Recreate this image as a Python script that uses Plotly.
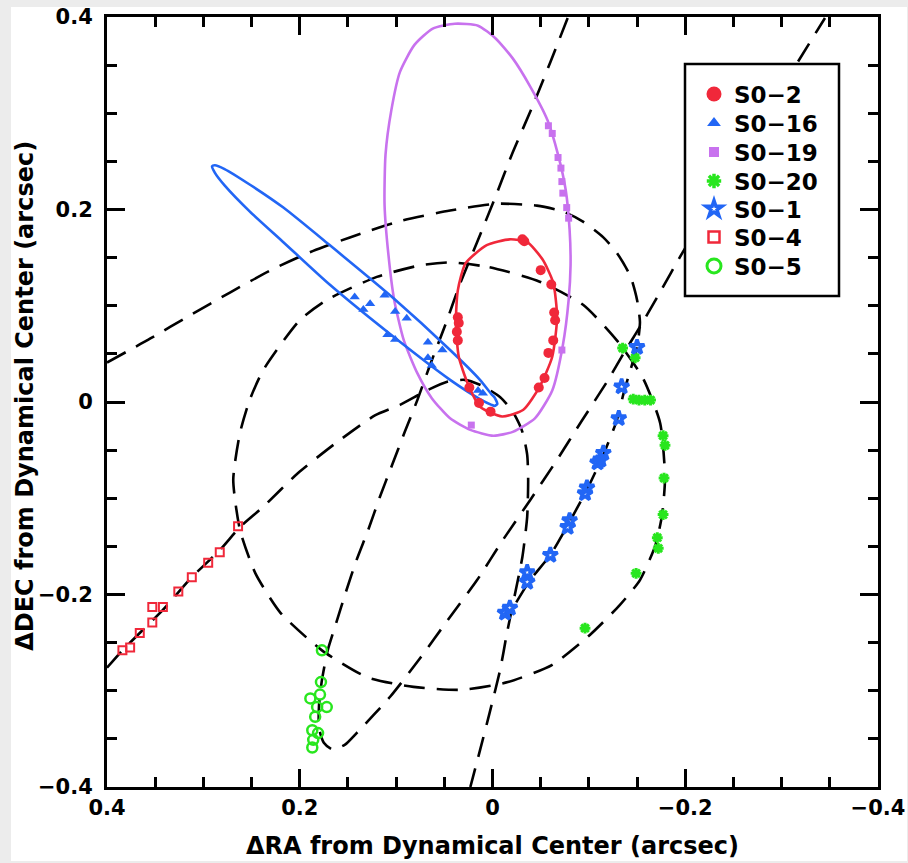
import plotly.graph_objects as go

# ---------------- data (arcsec) ----------------
# S0-2 orbit + astrometry
s02_orbit_x = [0.028, 0.036, 0.038, 0.035, 0.026, 0.013, -0.010, -0.032, -0.049, -0.062, -0.067, -0.063, -0.052, -0.036, -0.018, 0.006, 0.028]
s02_orbit_y = [0.144, 0.116, 0.082, 0.047, 0.020, -0.005, -0.015, -0.008, 0.016, 0.047, 0.088, 0.124, 0.148, 0.166, 0.169, 0.163, 0.144]
s02_x = [-0.033, -0.031, -0.050, -0.061, -0.064, -0.065, -0.063, -0.058, -0.054, -0.048, 0.002, 0.014, 0.024, 0.036, 0.037, 0.035, 0.036]
s02_y = [0.167, 0.169, 0.137, 0.122, 0.093, 0.085, 0.064, 0.051, 0.025, 0.015, -0.010, -0.001, 0.015, 0.088, 0.073, 0.082, 0.064]

# S0-16
s016_orbit_x = [0.291, 0.288, 0.278, 0.252, 0.217, 0.169, 0.103, 0.044, 0.013, 0.001, -0.002, -0.005, -0.002, 0.001, 0.013, 0.044, 0.103, 0.169, 0.217, 0.252, 0.278, 0.288, 0.291]
s016_orbit_y = [0.245, 0.246, 0.242, 0.226, 0.202, 0.163, 0.108, 0.054, 0.023, 0.008, 0.005, -0.002, -0.004, -0.003, 0.003, 0.023, 0.068, 0.122, 0.166, 0.198, 0.225, 0.238, 0.245]
s016_x = [0.143, 0.127, 0.134, 0.112, 0.101, 0.089, 0.109, 0.101, 0.067, 0.052, 0.067, 0.063, 0.015, 0.010]
s016_y = [0.109, 0.102, 0.096, 0.111, 0.094, 0.087, 0.070, 0.065, 0.062, 0.054, 0.046, 0.038, 0.012, 0.009]

# S0-19
s019_orbit_x = [0.039, 0.015, -0.003, -0.021, -0.039, -0.057, -0.068, -0.076, -0.080, -0.081, -0.079, -0.073, -0.062, -0.044, -0.021, -0.001, 0.023, 0.044, 0.063, 0.078, 0.092, 0.102, 0.108, 0.112, 0.111, 0.105, 0.096, 0.081, 0.062, 0.039]
s019_orbit_y = [0.393, 0.391, 0.378, 0.357, 0.328, 0.293, 0.257, 0.220, 0.179, 0.142, 0.106, 0.059, 0.012, -0.017, -0.031, -0.035, -0.029, -0.017, 0.004, 0.030, 0.064, 0.106, 0.153, 0.205, 0.257, 0.303, 0.343, 0.371, 0.388, 0.393]
s019_x = [-0.058, -0.062, -0.068, -0.071, -0.072, -0.073, -0.077, -0.079, -0.072, 0.022]
s019_y = [0.287, 0.279, 0.254, 0.243, 0.229, 0.217, 0.202, 0.191, 0.054, -0.024]

# S0-20
s020_orbit_x = [0.044, 0.003, -0.049, -0.094, -0.129, -0.156, -0.174, -0.179, -0.176, -0.169, -0.153, -0.132, -0.101, -0.062, -0.016, 0.032, 0.082, 0.130, 0.177, 0.220, 0.246, 0.262, 0.269, 0.262, 0.252, 0.238, 0.200, 0.172, 0.120, 0.075, 0.044]
s020_orbit_y = [0.145, 0.140, 0.125, 0.101, 0.064, 0.025, -0.022, -0.079, -0.117, -0.149, -0.185, -0.211, -0.242, -0.273, -0.291, -0.299, -0.296, -0.286, -0.258, -0.219, -0.178, -0.133, -0.081, -0.032, 0.002, 0.033, 0.085, 0.106, 0.130, 0.142, 0.145]
s020_x = [-0.135, -0.148, -0.146, -0.152, -0.158, -0.164, -0.177, -0.179, -0.178, -0.177, -0.171, -0.172, -0.149, -0.096]
s020_y = [0.056, 0.046, 0.003, 0.002, 0.002, 0.002, -0.035, -0.045, -0.079, -0.117, -0.141, -0.152, -0.178, -0.235]

# S0-1
s01_orbit_x = [0.400, 0.355, 0.314, 0.272, 0.228, 0.186, 0.148, 0.096, 0.044, -0.005, -0.046, -0.073, -0.093, -0.115, -0.129, -0.143, -0.150, -0.153, -0.150, -0.143, -0.136, -0.129, -0.114, -0.098, -0.078, -0.060, -0.039, -0.020]
s01_orbit_y = [0.041, 0.066, 0.090, 0.114, 0.138, 0.157, 0.171, 0.188, 0.199, 0.206, 0.204, 0.198, 0.188, 0.171, 0.155, 0.131, 0.106, 0.083, 0.057, 0.033, 0.009, -0.019, -0.057, -0.091, -0.128, -0.159, -0.185, -0.216]
s01_x = [-0.150, -0.134, -0.131, -0.115, -0.112, -0.109, -0.098, -0.096, -0.080, -0.078, -0.060, -0.036, -0.036, -0.018, -0.013]
s01_y = [0.057, 0.016, -0.017, -0.053, -0.060, -0.063, -0.089, -0.095, -0.123, -0.130, -0.159, -0.177, -0.187, -0.214, -0.219]

# S0-4
s04_orbit_x = [0.400, 0.384, 0.366, 0.342, 0.312, 0.283, 0.262, 0.238, 0.202, 0.163, 0.122, 0.096, 0.068, 0.047, 0.029, 0.011, -0.008, -0.021, -0.031, -0.036, -0.037, -0.036, -0.031, -0.023, -0.015, -0.008, 0.003, 0.013, 0.023]
s04_orbit_y = [-0.276, -0.258, -0.240, -0.216, -0.182, -0.154, -0.130, -0.109, -0.074, -0.043, -0.014, -0.003, 0.012, 0.021, 0.023, 0.017, 0.005, -0.010, -0.031, -0.055, -0.081, -0.119, -0.161, -0.201, -0.240, -0.278, -0.323, -0.362, -0.400]
s04_x = [0.384, 0.376, 0.366, 0.353, 0.353, 0.342, 0.326, 0.312, 0.295, 0.283, 0.264]
s04_y = [-0.258, -0.255, -0.240, -0.229, -0.213, -0.213, -0.197, -0.182, -0.167, -0.156, -0.129]

# S0-5
s05_orbit_x = [-0.078, -0.060, -0.041, -0.020, -0.003, 0.016, 0.034, 0.049, 0.065, 0.078, 0.091, 0.104, 0.117, 0.129, 0.141, 0.152, 0.162, 0.171, 0.177, 0.180, 0.180, 0.175, 0.166, 0.153, 0.141, 0.106, 0.075, 0.046, 0.016, -0.011, -0.039, -0.067, -0.093, -0.120, -0.137, -0.153, -0.171, -0.197, -0.257, -0.316, -0.345]
s05_orbit_y = [0.399, 0.353, 0.306, 0.257, 0.213, 0.166, 0.122, 0.080, 0.038, 0.002, -0.031, -0.065, -0.099, -0.133, -0.164, -0.197, -0.229, -0.258, -0.289, -0.315, -0.339, -0.354, -0.361, -0.356, -0.344, -0.306, -0.266, -0.226, -0.185, -0.143, -0.102, -0.060, -0.019, 0.023, 0.052, 0.078, 0.109, 0.155, 0.254, 0.352, 0.399]
s05_x = [0.177, 0.178, 0.189, 0.179, 0.172, 0.182, 0.184, 0.187, 0.181, 0.186, 0.187]
s05_y = [-0.258, -0.291, -0.308, -0.304, -0.317, -0.317, -0.327, -0.341, -0.344, -0.351, -0.359]

star_names = ["S0\u22122", "S0\u221216", "S0\u221219", "S0\u221220", "S0\u22121", "S0\u22124", "S0\u22125"]
tick_vals = [0.4, 0.2, 0, -0.2, -0.4]
tick_text = ["0.4", "0.2", "0", "\u22120.2", "\u22120.4"]
x_title = "\u0394RA from Dynamical Center (arcsec)"
y_title = "\u0394DEC from Dynamical Center (arcsec)"

# ---------------- styling ----------------
RED = "#f0283a"
BLUE = "#2266f5"
VIOLET = "#c872ee"
GREEN = "#28e61e"
FONT = "DejaVu Sans"

fig = go.Figure()

def dashed(x, y):
    fig.add_trace(go.Scatter(x=x, y=y, mode="lines", showlegend=False, hoverinfo="skip",
                             line=dict(color="black", width=2.6, dash="21px,12px", shape="spline", smoothing=0.6)))

def solid(x, y, c):
    fig.add_trace(go.Scatter(x=x, y=y, mode="lines", showlegend=False, hoverinfo="skip",
                             line=dict(color=c, width=2.6, shape="spline", smoothing=0.6)))

dashed(s020_orbit_x, s020_orbit_y)
dashed(s01_orbit_x, s01_orbit_y)
dashed(s04_orbit_x, s04_orbit_y)
dashed(s05_orbit_x, s05_orbit_y)
solid(s019_orbit_x, s019_orbit_y, VIOLET)
solid(s016_orbit_x, s016_orbit_y, BLUE)
solid(s02_orbit_x, s02_orbit_y, RED)

markers = [
    (s02_x, s02_y, dict(symbol="circle", size=10, color=RED), dict(symbol="circle", size=15, color=RED)),
    (s016_x, s016_y, dict(symbol="triangle-up", size=9, color=BLUE), dict(symbol="triangle-up", size=12, color=BLUE)),
    (s019_x, s019_y, dict(symbol="square", size=7, color=VIOLET), dict(symbol="square", size=10, color=VIOLET)),
    (s020_x, s020_y, dict(symbol="asterisk", size=9, line=dict(color=GREEN, width=3)), dict(symbol="asterisk", size=12, line=dict(color=GREEN, width=3.5))),
    (s01_x, s01_y, dict(symbol="star-open", size=11, line=dict(color=BLUE, width=3.5), color=BLUE), dict(symbol="star-open", size=12, line=dict(color=BLUE, width=3.5), color=BLUE)),
    (s04_x, s04_y, dict(symbol="square-open", size=8, line=dict(color=RED, width=2), color=RED), dict(symbol="square-open", size=11, line=dict(color=RED, width=2.5), color=RED)),
    (s05_x, s05_y, dict(symbol="circle-open", size=10, line=dict(color=GREEN, width=2.5), color=GREEN), dict(symbol="circle-open", size=14, line=dict(color=GREEN, width=3), color=GREEN)),
]

for (x, y, mk, _lg) in markers:
    fig.add_trace(go.Scatter(x=x, y=y, mode="markers", marker=mk, showlegend=False, hoverinfo="skip"))

# legend entries (one legend per entry for exact spacing)
legend_py = [94, 123, 152, 181, 209, 237, 266]
layout_legends = {}
for i, (name, m) in enumerate(zip(star_names, markers)):
    key = "legend" if i == 0 else f"legend{i+1}"
    fig.add_trace(go.Scatter(x=[None], y=[None], mode="markers", name=name, marker=m[3],
                             legend=key, showlegend=True))
    layout_legends[key] = dict(
        x=(694 - 107) / 771, xanchor="left",
        y=(787 - legend_py[i]) / 770, yanchor="middle",
        bgcolor="rgba(0,0,0,0)", borderwidth=0,
        font=dict(family=FONT, size=23, color="black", weight="bold"),
        itemsizing="trace",
    )

axis_common = dict(
    showgrid=False, zeroline=False, showline=True, linecolor="black", linewidth=3,
    mirror="allticks", ticks="inside", ticklen=18, tickwidth=2.6, tickcolor="black",
    minor=dict(dtick=0.05, ticks="inside", ticklen=10, tickwidth=2.6, tickcolor="black"),
    tickvals=tick_vals, ticktext=tick_text, automargin=False,
    tickfont=dict(family=FONT, size=21, color="black", weight="bold"),
)

fig.update_layout(
    width=908, height=863,
    margin=dict(l=107, r=30, t=17, b=76, autoexpand=False),
    paper_bgcolor="#ececec", plot_bgcolor="white",
    xaxis=dict(range=[0.4, -0.4], ticklabelstandoff=0,
               title=dict(text=x_title, standoff=18,
                          font=dict(family=FONT, size=24, color="black", weight="bold")),
               **axis_common),
    yaxis=dict(range=[-0.4, 0.4], ticklabelstandoff=7, **axis_common),
    annotations=[
        dict(text=y_title, textangle=-90, xref="paper", yref="paper",
             x=(25 - 107) / 771, y=0.508, xanchor="center", yanchor="middle", showarrow=False,
             font=dict(family=FONT, size=24, color="black", weight="bold")),
    ],
    shapes=[
        dict(type="rect", xref="paper", yref="paper", layer="below",
             x0=(11 - 107) / 771, x1=(907 - 107) / 771, y0=(787 - 861) / 770, y1=(787 - 7) / 770,
             fillcolor="white", line=dict(width=0)),
        dict(type="rect", xref="paper", yref="paper", layer="above",
             x0=(685 - 107) / 771, x1=(839 - 107) / 771, y0=(787 - 296) / 770, y1=(787 - 64) / 770,
             fillcolor="white", line=dict(color="black", width=2.5)),
    ],
    **layout_legends,
)

fig.write_html("out.html", config={"displayModeBar": False},
               post_script="document.body.style.margin='0px';document.body.style.overflow='hidden';")
